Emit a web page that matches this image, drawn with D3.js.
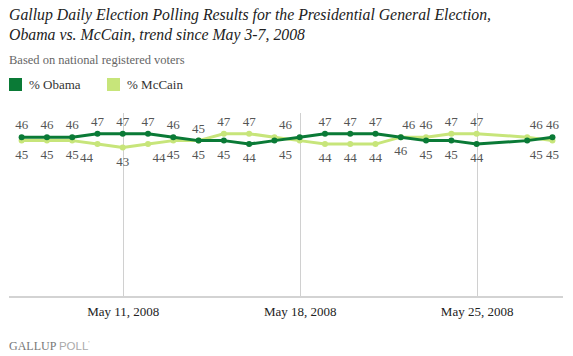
<!DOCTYPE html>
<html><head><meta charset="utf-8">
<script src="https://cdn.jsdelivr.net/npm/d3@7"></script>
<style>body{margin:0;background:#fff}svg{display:block}</style>
</head><body><svg id="c" width="573" height="356"></svg>
<script>
const dates = ["2008-05-07","2008-05-08","2008-05-09","2008-05-10","2008-05-11","2008-05-12","2008-05-13","2008-05-14","2008-05-15","2008-05-16","2008-05-17","2008-05-18","2008-05-19","2008-05-20","2008-05-21","2008-05-22","2008-05-23","2008-05-24","2008-05-25","2008-05-27","2008-05-28"];
const obama  = [46,46,46,47,47,47,46,45,45,44,45,46,47,47,47,46,45,45,44,45,46];
const mccain = [45,45,45,44,43,44,45,45,47,47,46,45,44,44,44,46,46,47,47,46,45];
const tickDates = ["2008-05-11","2008-05-18","2008-05-25"];
const tickLabels = ["May 11, 2008","May 18, 2008","May 25, 2008"];
const seriesNames = ["% Obama","% McCain"];
const colors = ["#0a7a36","#c7e57a"];
const titleLines = ["Gallup Daily Election Polling Results for the Presidential General Election,","Obama vs. McCain, trend since May 3-7, 2008"];
const subtitle = "Based on national registered voters";

const parse = d3.timeParse("%Y-%m-%d");
const svg = d3.select("#c");
const serif = "'Liberation Serif','Times New Roman',serif";

const x = d3.scaleTime()
  .domain([d3.timeHour.offset(parse("2008-05-06"), 12), d3.timeHour.offset(parse("2008-05-28"), 10)])
  .range([9, 563]);
const y = d3.scaleLinear().domain([0, 53]).range([296, 113]);

// titles
titleLines.forEach((t, i) => {
  svg.append("text").attr("x", 9).attr("y", 20 + i * 20)
    .attr("font-family", serif).attr("font-style", "italic").attr("font-size", 15.8)
    .attr("fill", "#222").text(t);
});
svg.append("text").attr("x", 9).attr("y", 64).attr("font-family", serif)
  .attr("font-size", 12.5).attr("fill", "#666").text(subtitle);

// legend
const lg = svg.append("g");
[9, 107].forEach((lx, i) => {
  lg.append("rect").attr("x", lx).attr("y", 78).attr("width", 13).attr("height", 13).attr("fill", colors[i]);
  lg.append("text").attr("x", lx + 20).attr("y", 89).attr("font-family", serif)
    .attr("font-size", 13).attr("fill", "#333").text(seriesNames[i]);
});

// gridlines & axis
const tks = tickDates.map(parse);
svg.append("g").selectAll("line").data(tks).join("line")
  .attr("x1", d => Math.round(x(d)) + 0.5).attr("x2", d => Math.round(x(d)) + 0.5)
  .attr("y1", 113).attr("y2", 296).attr("stroke", "#d0d0d0").attr("stroke-width", 1);
svg.append("line").attr("x1", 9).attr("x2", 563).attr("y1", 297).attr("y2", 297)
  .attr("stroke", "#d3d3d3").attr("stroke-width", 2);
const axis = d3.axisBottom(x).tickValues(tks).tickFormat((d, i) => tickLabels[i]).tickSize(0).tickPadding(0);
const ag = svg.append("g").attr("transform", "translate(0,307)").call(axis);
ag.select(".domain").remove();
ag.selectAll("text").attr("font-family", serif).attr("font-size", 13).attr("fill", "#222");

// series
const pts = dates.map((d, i) => ({ date: parse(d), o: obama[i], m: mccain[i], i }));
const line = d3.line().x(d => x(d.date)).y(d => y(d.v));
[["m", 1], ["o", 0]].forEach(([k, ci]) => {
  const data = pts.map(p => ({ date: p.date, v: p[k] }));
  svg.append("path").datum(data).attr("d", line).attr("fill", "none")
    .attr("stroke", colors[ci]).attr("stroke-width", 3).attr("stroke-linejoin", "round");
  svg.append("g").selectAll("circle").data(data).join("circle")
    .attr("cx", d => x(d.date)).attr("cy", d => y(d.v)).attr("r", 3).attr("fill", colors[ci]);
});

// value labels: higher above, lower below; nudges to avoid crossing lines
const topDx = {15: 8, 10: 11, 19: 9};
const botDx = {3: -11, 5: 11, 10: 11, 19: 9};
const skip = new Set([11]);
const lbl = svg.append("g").attr("font-family", serif).attr("font-size", 13)
  .attr("fill", "#555").attr("text-anchor", "middle");
pts.forEach(p => {
  if (skip.has(p.i)) return;
  const hi = Math.max(p.o, p.m), lo = Math.min(p.o, p.m);
  const cx = x(p.date);
  lbl.append("text").attr("x", cx + (topDx[p.i] || 0)).attr("y", y(hi) - 8).text(hi);
  lbl.append("text").attr("x", cx + (botDx[p.i] || 0)).attr("y", y(lo) + 18).text(lo);
});

// footer logo
const ft = svg.append("text").attr("x", 9).attr("y", 350);
ft.append("tspan").attr("font-family", serif).attr("font-size", 12).attr("fill", "#777").text("GALLUP ");
ft.append("tspan").attr("font-family", "'Liberation Sans',Arial,sans-serif").attr("font-size", 11.5).attr("fill", "#aaa").text("POLL");
ft.append("tspan").attr("font-family", "'Liberation Sans',Arial,sans-serif").attr("font-size", 7).attr("fill", "#aaa").attr("dy", -4).text("'");
</script></body></html>
